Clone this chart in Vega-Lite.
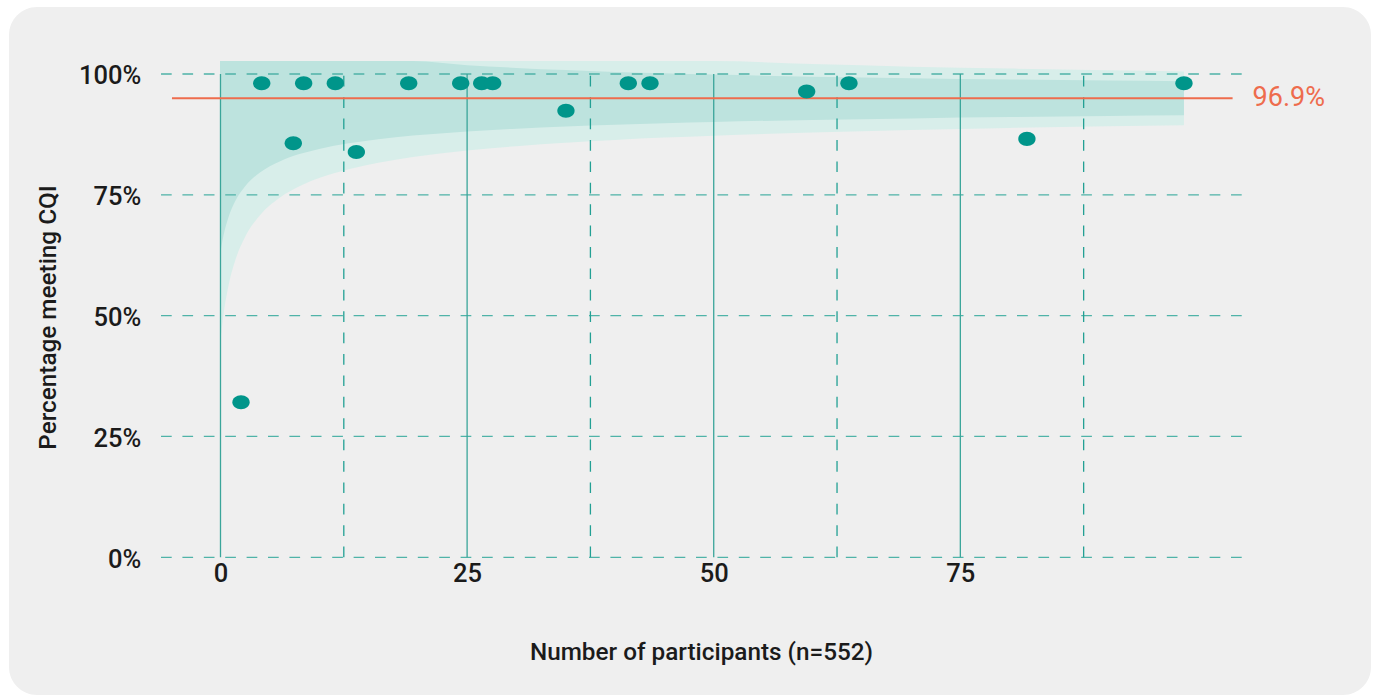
{
  "$schema": "https://vega.github.io/schema/vega-lite/v6.json",
  "width": 1362,
  "height": 688,
  "autosize": {"type": "none"},
  "padding": {"left": 9, "top": 7, "right": 7, "bottom": 0},
  "background": "#ffffff",
  "config": {
    "view": {"fill": "#efefef", "stroke": null, "cornerRadius": 28},
    "font": "Roboto",
    "axis": {
      "domain": false,
      "ticks": false,
      "grid": false,
      "labelFont": "Roboto",
      "labelFontSize": 25.5,
      "labelFontWeight": 500,
      "labelColor": "#1b1b1b",
      "titleFont": "Roboto",
      "titleFontSize": 24.3,
      "titleFontWeight": 500,
      "titleColor": "#1b1b1b"
    }
  },
  "datasets": {
    "units": [
      {"n": 2.08, "pct": 34.0},
      {"n": 4.18, "pct": 100},
      {"n": 7.38, "pct": 87.6},
      {"n": 8.43, "pct": 100},
      {"n": 11.64, "pct": 100},
      {"n": 13.77, "pct": 85.8},
      {"n": 19.08, "pct": 100},
      {"n": 24.35, "pct": 100},
      {"n": 26.48, "pct": 100},
      {"n": 27.59, "pct": 100},
      {"n": 35.02, "pct": 94.3},
      {"n": 41.34, "pct": 100},
      {"n": 43.54, "pct": 100},
      {"n": 59.42, "pct": 98.3},
      {"n": 63.71, "pct": 100},
      {"n": 81.75, "pct": 88.5},
      {"n": 97.67, "pct": 100}
    ],
    "limits": [
      {"n": -0.05, "lo95": 64.47, "hi95": 104.61, "lo998": 45.78, "hi998": 104.61},
      {"n": 0.3, "lo95": 68.45, "hi95": 104.61, "lo998": 52.05, "hi998": 104.61},
      {"n": 0.8, "lo95": 72.22, "hi95": 104.61, "lo998": 57.99, "hi998": 104.61},
      {"n": 1.5, "lo95": 75.63, "hi95": 104.61, "lo998": 63.37, "hi998": 104.61},
      {"n": 2.5, "lo95": 78.71, "hi95": 104.61, "lo998": 68.23, "hi998": 104.61},
      {"n": 4, "lo95": 81.55, "hi95": 104.61, "lo998": 72.7, "hi998": 104.61},
      {"n": 6, "lo95": 83.84, "hi95": 104.61, "lo998": 76.32, "hi998": 104.61},
      {"n": 8, "lo95": 85.35, "hi95": 104.61, "lo998": 78.69, "hi998": 104.61},
      {"n": 10, "lo95": 86.43, "hi95": 104.61, "lo998": 80.39, "hi998": 104.61},
      {"n": 13, "lo95": 87.6, "hi95": 104.61, "lo998": 82.24, "hi998": 104.61},
      {"n": 16, "lo95": 88.45, "hi95": 104.61, "lo998": 83.57, "hi998": 104.61},
      {"n": 19.5, "lo95": 89.19, "hi95": 104.61, "lo998": 84.75, "hi998": 104.61},
      {"n": 25, "lo95": 90.05, "hi95": 103.75, "lo998": 86.1, "hi998": 104.61},
      {"n": 30, "lo95": 90.62, "hi95": 103.18, "lo998": 87.0, "hi998": 104.61},
      {"n": 35, "lo95": 91.07, "hi95": 102.73, "lo998": 87.71, "hi998": 104.61},
      {"n": 40, "lo95": 91.44, "hi95": 102.36, "lo998": 88.29, "hi998": 104.61},
      {"n": 45, "lo95": 91.74, "hi95": 102.06, "lo998": 88.77, "hi998": 104.61},
      {"n": 50, "lo95": 92.0, "hi95": 101.8, "lo998": 89.17, "hi998": 104.61},
      {"n": 60, "lo95": 92.42, "hi95": 101.38, "lo998": 89.83, "hi998": 103.97},
      {"n": 70, "lo95": 92.74, "hi95": 101.06, "lo998": 90.35, "hi998": 103.45},
      {"n": 80, "lo95": 93.01, "hi95": 100.79, "lo998": 90.76, "hi998": 103.04},
      {"n": 90, "lo95": 93.23, "hi95": 100.57, "lo998": 91.11, "hi998": 102.69},
      {"n": 97.67, "lo95": 93.37, "hi95": 100.43, "lo998": 91.34, "hi998": 102.46}
    ],
    "gridPct": [{"pct": 0}, {"pct": 25}, {"pct": 50}, {"pct": 75}, {"pct": 100}],
    "majorN": [{"n": 0}, {"n": 25}, {"n": 50}, {"n": 75}],
    "minorN": [{"n": 12.5}, {"n": 37.5}, {"n": 62.5}, {"n": 87.5}],
    "overall": [{"pct": 96.9, "label": "96.9%"}]
  },
  "layer": [
    {
      "data": {"name": "limits"},
      "mark": {"type": "area", "color": "#d8eeea", "interpolate": "monotone"},
      "encoding": {
        "x": {
          "field": "n",
          "type": "quantitative",
          "title": "Number of participants (n=552)",
          "scale": {"domain": [-21.44, 116.63], "nice": false, "zero": false},
          "axis": {
            "values": [0, 25, 50, 75],
            "offset": -137.7,
            "labelPadding": 4,
            "titleX": 692,
            "titleY": 101.7,
            "titleBaseline": "alphabetic"
          }
        },
        "y": {
          "field": "lo998",
          "type": "quantitative",
          "scale": {"domain": [-26.57, 115.79], "nice": false, "zero": false},
          "axis": null
        },
        "y2": {"field": "hi998"}
      }
    },
    {
      "data": {"name": "limits"},
      "mark": {"type": "area", "color": "#bde3de", "interpolate": "monotone"},
      "encoding": {
        "x": {"field": "n", "type": "quantitative", "title": "Number of participants (n=552)"},
        "y": {
          "field": "lo95",
          "type": "quantitative",
          "scale": {"domain": [-26.57, 115.79], "nice": false, "zero": false},
          "axis": null
        },
        "y2": {"field": "hi95"}
      }
    },
    {
      "data": {"name": "gridPct"},
      "mark": {"type": "rule", "color": "#4fb3a8", "strokeWidth": 1.3, "strokeDash": [10.7, 10.7]},
      "encoding": {
        "x": {"datum": -6.03},
        "x2": {"datum": 103.65},
        "y": {
          "field": "pct",
          "type": "quantitative",
          "scale": {"domain": [-28.49, 113.86], "nice": false, "zero": false},
          "axis": {
            "values": [0, 25, 50, 75, 100],
            "labelExpr": "datum.value + '%'",
            "offset": -152,
            "labelPadding": 20.3,
            "labelOffset": 2,
            "title": "Percentage meeting CQI",
            "titleX": -106,
            "titleY": 310,
            "titleAngle": -90,
            "titleAlign": "center",
            "titleBaseline": "alphabetic"
          }
        }
      }
    },
    {
      "data": {"name": "majorN"},
      "mark": {"type": "rule", "color": "#3aa59a", "strokeWidth": 1.3},
      "encoding": {
        "x": {"field": "n", "type": "quantitative", "title": "Number of participants (n=552)"},
        "y": {
          "datum": 0,
          "type": "quantitative",
          "scale": {"domain": [-28.49, 113.86], "nice": false, "zero": false},
          "axis": null
        },
        "y2": {"datum": 100}
      }
    },
    {
      "data": {"name": "minorN"},
      "mark": {"type": "rule", "color": "#23a094", "strokeWidth": 1.3, "strokeDash": [10.7, 10.7]},
      "encoding": {
        "x": {"field": "n", "type": "quantitative", "title": "Number of participants (n=552)"},
        "y": {
          "datum": 0,
          "type": "quantitative",
          "scale": {"domain": [-28.49, 113.86], "nice": false, "zero": false},
          "axis": null
        },
        "y2": {"datum": 100}
      }
    },
    {
      "data": {"name": "overall"},
      "mark": {"type": "rule", "color": "#ee6c4d", "strokeWidth": 2},
      "encoding": {
        "x": {"datum": -4.92},
        "x2": {"datum": 102.6},
        "y": {
          "field": "pct",
          "type": "quantitative",
          "scale": {"domain": [-26.57, 115.79], "nice": false, "zero": false},
          "axis": null
        }
      }
    },
    {
      "data": {"name": "units"},
      "mark": {
        "type": "point",
        "filled": true,
        "opacity": 1,
        "color": "#00958a",
        "size": 300,
        "shape": "M-1,0C-1,-0.447,-0.552,-0.81,0,-0.81C0.552,-0.81,1,-0.447,1,0C1,0.447,0.552,0.81,0,0.81C-0.552,0.81,-1,0.447,-1,0Z"
      },
      "encoding": {
        "x": {"field": "n", "type": "quantitative", "title": "Number of participants (n=552)"},
        "y": {
          "field": "pct",
          "type": "quantitative",
          "scale": {"domain": [-26.57, 115.79], "nice": false, "zero": false},
          "axis": null
        }
      }
    },
    {
      "data": {"name": "overall"},
      "mark": {
        "type": "text",
        "color": "#ee6c4d",
        "font": "Roboto",
        "fontSize": 27,
        "fontWeight": 400,
        "align": "left",
        "baseline": "middle",
        "dx": 20
      },
      "encoding": {
        "x": {"datum": 102.6},
        "y": {
          "field": "pct",
          "type": "quantitative",
          "scale": {"domain": [-26.57, 115.79], "nice": false, "zero": false},
          "axis": null
        },
        "text": {"field": "label"}
      }
    }
  ],
  "resolve": {"scale": {"y": "independent"}}
}
